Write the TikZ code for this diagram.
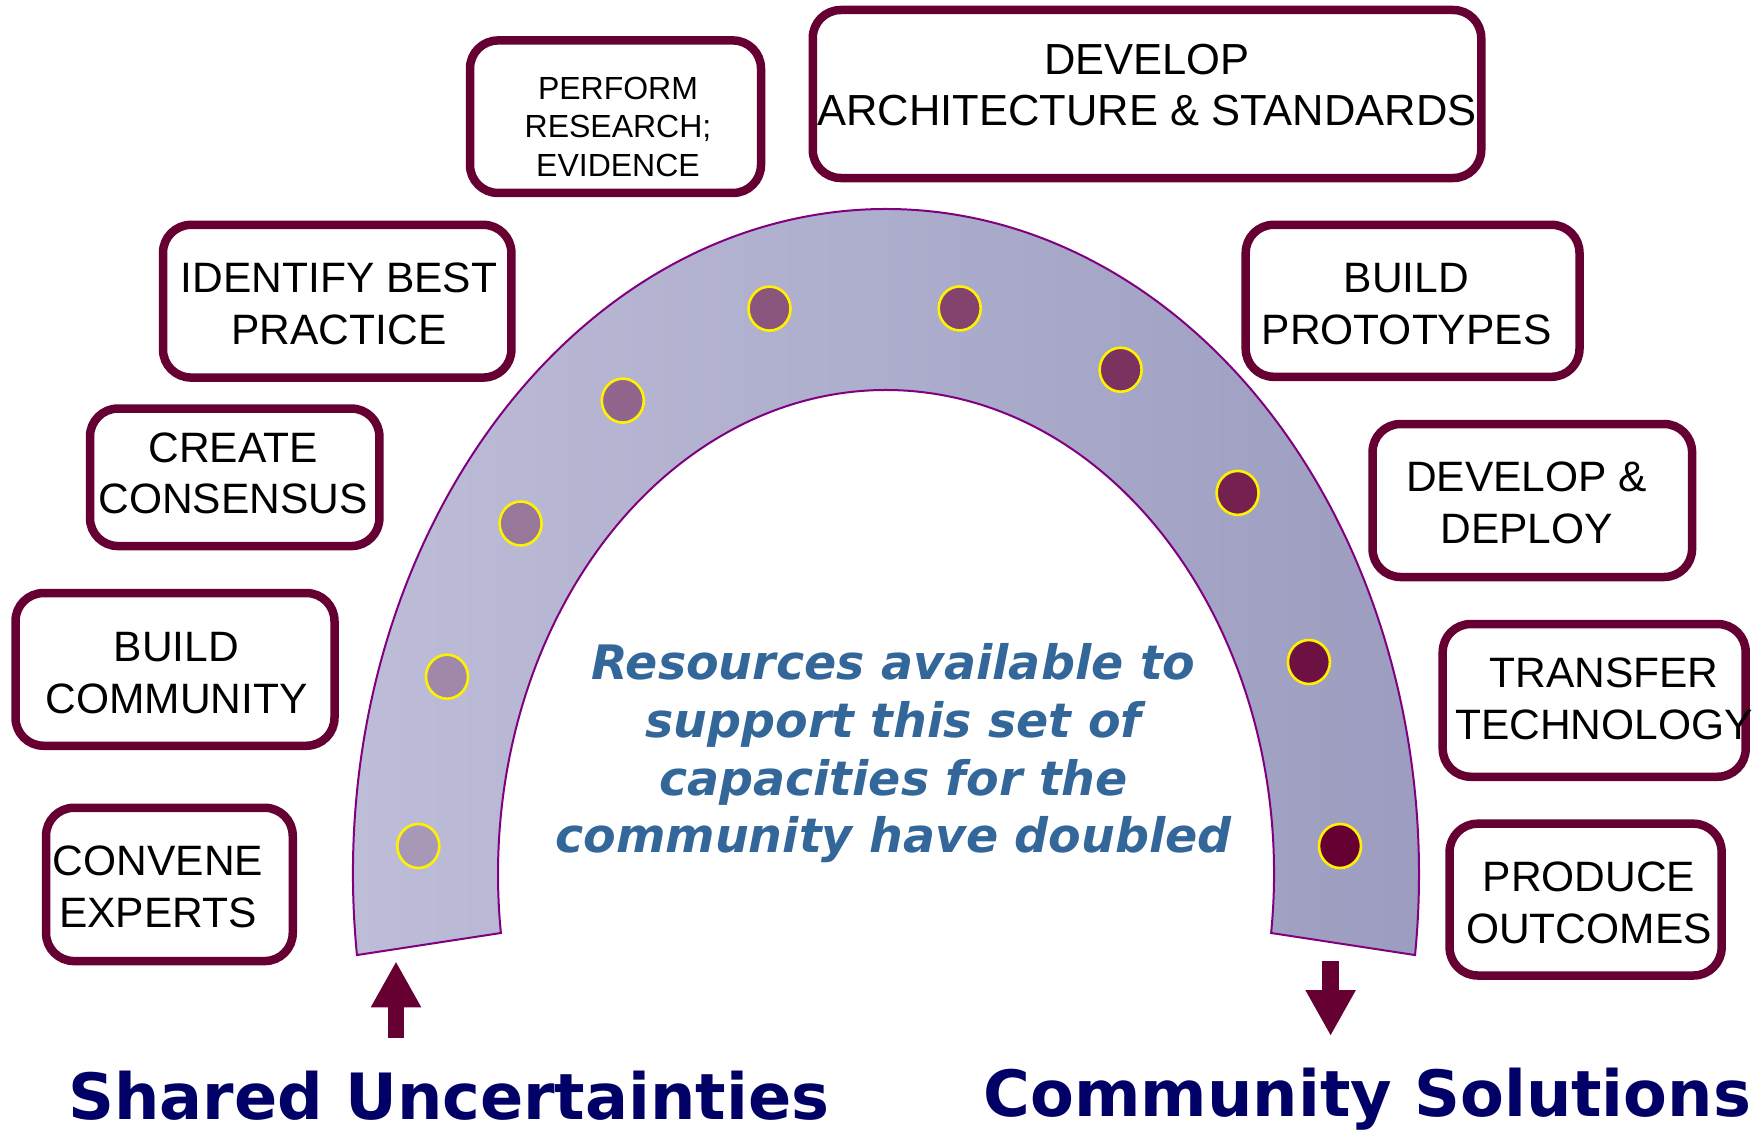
\documentclass[tikz,border=0pt]{standalone}
\usepackage{fontspec}
\setmainfont{Liberation Sans}
\newfontfamily\dvfont{DejaVu Sans}[BoldFont={DejaVu Sans Bold},BoldItalicFont={DejaVu Sans Bold Oblique}]
\usetikzlibrary{arrows.meta,shapes.geometric,calc}
\definecolor{boxline}{HTML}{660033}
\definecolor{archline}{HTML}{800080}
\definecolor{archL}{RGB}{190,190,217}
\definecolor{archR}{RGB}{156,156,192}
\definecolor{dotlight}{RGB}{168,152,184}
\definecolor{dotdark}{HTML}{660033}
\definecolor{midblue}{RGB}{51,102,153}
\definecolor{navy}{HTML}{000066}
\begin{document}
\begin{tikzpicture}[x=1pt,y=-1pt,
  capbox/.style={draw=boxline, line width=8.5pt, rounded corners=28pt, fill=white, inner sep=0pt, rectangle},
  lbl/.style={align=center, inner sep=0pt, anchor=north, text=black, font=\fontsize{42.5}{51.6}\selectfont},
  dotnode/.style={ellipse, draw=yellow, line width=2.6pt, minimum width=42pt, minimum height=44pt, inner sep=0pt},
  bigarrow/.style={draw=boxline, line width=16.5pt, -{Triangle[width=47pt,length=46pt]}},
  bottomtxt/.style={anchor=base west, inner sep=0pt, text=navy, font=\dvfont\bfseries\fontsize{63.8}{70}\selectfont}]
\useasboundingbox (0,0) rectangle (1764,1132);
\fill[white] (0,0) rectangle (1764,1132);

% arch
\path[draw=archline, line width=2pt, left color=archL, right color=archR]
  (886,874) ++(173:533 and 665) arc[start angle=173, end angle=367, x radius=533, y radius=665]
  -- ($(886,874)+(7:388 and 484)$) arc[start angle=7, end angle=-187, x radius=388, y radius=484] -- cycle;

% dots
\node[dotnode, fill=dotdark!0!dotlight]  (d1)  at (418.3,846) {};
\node[dotnode, fill=dotdark!11!dotlight] (d2)  at (447,676.7) {};
\node[dotnode, fill=dotdark!22!dotlight] (d3)  at (520.6,523.5) {};
\node[dotnode, fill=dotdark!33!dotlight] (d4)  at (622.8,400.6) {};
\node[dotnode, fill=dotdark!44!dotlight] (d5)  at (769.5,308.6) {};
\node[dotnode, fill=dotdark!56!dotlight] (d6)  at (959.7,308.4) {};
\node[dotnode, fill=dotdark!67!dotlight] (d7)  at (1120.6,369.7) {};
\node[dotnode, fill=dotdark!78!dotlight] (d8)  at (1237.6,492.9) {};
\node[dotnode, fill=dotdark!89!dotlight] (d9)  at (1308.9,662) {};
\node[dotnode, fill=dotdark!100!dotlight] (d10) at (1340,846) {};

% boxes
\node[capbox, minimum width=291pt, minimum height=152.5pt] (b1) at (615.5,116.7) {};
\node[capbox, minimum width=668.5pt, minimum height=168pt] (b2) at (1147,94) {};
\node[capbox, minimum width=348.4pt, minimum height=152.7pt] (b3) at (337.2,301.2) {};
\node[capbox, minimum width=289.4pt, minimum height=137.5pt] (b4) at (234.7,477.3) {};
\node[capbox, minimum width=319pt, minimum height=152.7pt] (b5) at (175,669.4) {};
\node[capbox, minimum width=246.7pt, minimum height=153.3pt] (b6) at (169.4,884.4) {};
\node[capbox, minimum width=333.8pt, minimum height=152pt] (b7) at (1412.6,300.8) {};
\node[capbox, minimum width=319.5pt, minimum height=153pt] (b8) at (1532.3,500.5) {};
\node[capbox, minimum width=303pt, minimum height=152.7pt] (b9) at (1594.2,700.4) {};
\node[capbox, minimum width=272pt, minimum height=151.8pt] (b10) at (1585.6,899.6) {};

% labels
\node[lbl, font=\fontsize{32}{38.3}\selectfont] (t1) at (618,77) {PERFORM\\RESEARCH;\\EVIDENCE};
\node[lbl, font=\fontsize{43.5}{51.2}\selectfont] (t2) at (1147,44.1) {DEVELOP\\ARCHITECTURE \& STANDARDS};
\node[lbl] (t3) at (339,262.9) {IDENTIFY BEST\\PRACTICE};
\node[lbl] (t4) at (233,432.3) {CREATE\\CONSENSUS};
\node[lbl] (t5) at (176.5,632.1) {BUILD\\COMMUNITY};
\node[lbl] (t6) at (158,845.7) {CONVENE\\EXPERTS};
\node[lbl] (t7) at (1406.5,263.5) {BUILD\\PROTOTYPES};
\node[lbl] (t8) at (1526.7,461.9) {DEVELOP \&\\DEPLOY};
\node[lbl] (t9) at (1604,657.8) {TRANSFER\\TECHNOLOGY};
\node[lbl] (t10) at (1589,862.1) {PRODUCE\\OUTCOMES};

% centre text
\node[align=center, inner sep=0pt, anchor=north, text=midblue,
      font=\dvfont\bfseries\itshape\fontsize{47.5}{57.8}\selectfont] (res) at (893.5,643.3)
  {Resources available to\\support this set of\\capacities for the\\community have doubled};

% arrows
\coordinate (upS) at (396,1038);
\coordinate (upT) at (396,961.3);
\coordinate (dnS) at (1330.6,961.3);
\coordinate (dnT) at (1330.6,1036);
\draw[bigarrow] (upS) -- (upT);
\draw[bigarrow] (dnS) -- (dnT);

% bottom labels
\node[bottomtxt] (su) at (68,1119) {Shared Uncertainties};
\node[bottomtxt] (cs) at (983.5,1116) {Community Solutions};
\end{tikzpicture}
\end{document}
